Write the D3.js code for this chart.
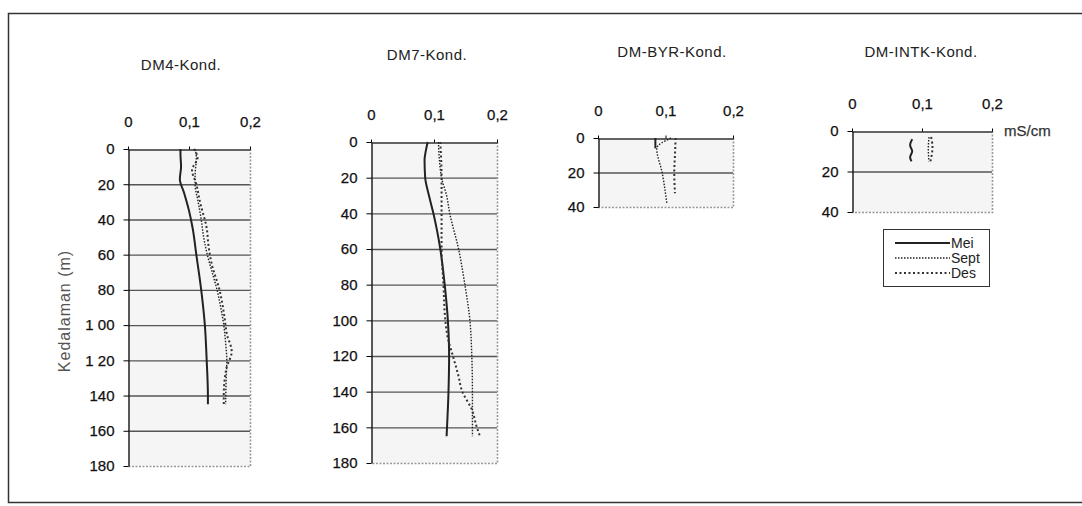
<!DOCTYPE html>
<html>
<head>
<meta charset="utf-8">
<script src="https://d3js.org/d3.v7.min.js"></script>
<style>
  html, body { margin: 0; padding: 0; background: #fff; }
  svg { display: block; font-family: "Liberation Sans", Arial, sans-serif; }
</style>
</head>
<body>
<div id="chart"></div>
<script>
// nilai konduktivitas (mS/cm) terhadap kedalaman (m)
const seriesNames = ["Mei", "Sept", "Des"];
const xTickValues = [0, 0.1, 0.2];
const xTickLabels = ["0", "0,1", "0,2"];

const dm4Ticks = [0, 20, 40, 60, 80, 100, 120, 140, 160, 180];
const dm4TickLabels = ["0", "20", "40", "60", "80", "1 00", "1 20", "140", "160", "180"];
const dm4MeiDepth = [0, 3, 10, 17, 25, 35, 45, 60, 80, 100, 120, 140, 145];
const dm4Mei = [0.086, 0.086, 0.087, 0.085, 0.092, 0.1, 0.106, 0.112, 0.12, 0.126, 0.129, 0.131, 0.131];
const dm4SeptDepth = [0, 5, 15, 20, 30, 40, 50, 60, 70, 80, 90, 100, 110, 120, 130, 145];
const dm4Sept = [0.11, 0.112, 0.11, 0.11, 0.115, 0.12, 0.124, 0.13, 0.138, 0.146, 0.152, 0.157, 0.16, 0.162, 0.161, 0.16];
const dm4DesDepth = [0, 5, 12, 20, 30, 45, 55, 65, 80, 95, 105, 115, 125, 140, 145];
const dm4Des = [0.108, 0.114, 0.105, 0.112, 0.118, 0.129, 0.132, 0.137, 0.15, 0.158, 0.162, 0.17, 0.161, 0.157, 0.157];

const dm7Ticks = [0, 20, 40, 60, 80, 100, 120, 140, 160, 180];
const dm7TickLabels = ["0", "20", "40", "60", "80", "100", "120", "140", "160", "180"];
const dm7MeiDepth = [0, 5, 10, 20, 30, 40, 50, 60, 80, 100, 120, 140, 165];
const dm7Mei = [0.09, 0.087, 0.085, 0.086, 0.092, 0.099, 0.105, 0.11, 0.117, 0.122, 0.124, 0.123, 0.12];
const dm7SeptDepth = [0, 20, 30, 40, 60, 80, 100, 120, 140, 165];
const dm7Sept = [0.107, 0.112, 0.12, 0.125, 0.139, 0.149, 0.157, 0.16, 0.161, 0.161];
const dm7DesDepth = [0, 20, 40, 60, 80, 100, 110, 120, 130, 140, 150, 160, 165];
const dm7Des = [0.11, 0.112, 0.112, 0.112, 0.115, 0.118, 0.122, 0.13, 0.138, 0.145, 0.16, 0.168, 0.173];

const byrTicks = [0, 20, 40];
const byrTickLabels = ["0", "20", "40"];
const byrMeiDepth = [0, 6];
const byrMei = [0.085, 0.085];
const byrSeptDepth = [0, 6, 20, 38];
const byrSept = [0.108, 0.087, 0.095, 0.102];
const byrDesDepth = [0, 10, 20, 32];
const byrDes = [0.115, 0.114, 0.113, 0.114];

const intkTicks = [0, 20, 40];
const intkTickLabels = ["0", "20", "40"];
const intkMeiDepth = [4, 7, 10, 13, 15];
const intkMei = [0.086, 0.083, 0.086, 0.083, 0.085];
const intkSeptDepth = [3, 9, 15];
const intkSept = [0.11, 0.109, 0.11];
const intkDesDepth = [3, 8, 15];
const intkDes = [0.113, 0.115, 0.112];

const zip = (d, v) => d.map((dep, i) => ({depth: dep, value: v[i]}));

const panels = [
  {title: "DM4-Kond.", ticks: dm4Ticks, tickLabels: dm4TickLabels,
   box: {l: 128, r: 250, t: 149, b: 466}, titleX: 181, titleY: 70,
   series: [zip(dm4MeiDepth, dm4Mei), zip(dm4SeptDepth, dm4Sept), zip(dm4DesDepth, dm4Des)]},
  {title: "DM7-Kond.", ticks: dm7Ticks, tickLabels: dm7TickLabels,
   box: {l: 371, r: 497, t: 142, b: 463}, titleX: 427, titleY: 60,
   series: [zip(dm7MeiDepth, dm7Mei), zip(dm7SeptDepth, dm7Sept), zip(dm7DesDepth, dm7Des)]},
  {title: "DM-BYR-Kond.", ticks: byrTicks, tickLabels: byrTickLabels,
   box: {l: 598, r: 733, t: 138, b: 207}, titleX: 672, titleY: 57,
   series: [zip(byrMeiDepth, byrMei), zip(byrSeptDepth, byrSept), zip(byrDesDepth, byrDes)]},
  {title: "DM-INTK-Kond.", ticks: intkTicks, tickLabels: intkTickLabels,
   box: {l: 852, r: 992, t: 131, b: 212}, titleX: 921, titleY: 57,
   series: [zip(intkMeiDepth, intkMei), zip(intkSeptDepth, intkSept), zip(intkDesDepth, intkDes)]}
];

// gaya garis tiap bulan
const lineStyle = [
  {color: "#222", width: 2, dash: null},
  {color: "#222", width: 1.4, dash: "1.5,1.5"},
  {color: "#333", width: 2, dash: "2,2.5"}
];

const W = 1082, H = 506;
const svg = d3.select("#chart").append("svg")
  .attr("width", W).attr("height", H);

// bingkai luar
svg.append("rect")
  .attr("x", 8.5).attr("y", 13.5)
  .attr("width", 1080).attr("height", 489)
  .attr("fill", "none").attr("stroke", "#333").attr("stroke-width", 1.5);

panels.forEach(p => {
  const b = p.box;
  const x = d3.scaleLinear().domain([0, 0.2]).range([b.l, b.r]);
  const y = d3.scaleLinear().domain([0, d3.max(p.ticks)]).range([b.t, b.b]);
  const g = svg.append("g");

  // latar area plot
  g.append("rect")
    .attr("x", b.l).attr("y", b.t)
    .attr("width", b.r - b.l).attr("height", b.b - b.t)
    .attr("fill", "#f5f5f5");

  // garis grid horizontal
  g.selectAll(".grid")
    .data(p.ticks.slice(1, -1))
    .enter().append("line")
    .attr("x1", b.l).attr("x2", b.r)
    .attr("y1", d => y(d) + 0.5).attr("y2", d => y(d) + 0.5)
    .attr("stroke", "#555").attr("stroke-width", 1.4);

  // batas kanan & bawah bertitik
  g.append("path")
    .attr("d", `M${b.r + 0.5},${b.t}V${b.b + 0.5}H${b.l}`)
    .attr("fill", "none").attr("stroke", "#999")
    .attr("stroke-width", 1.6).attr("stroke-dasharray", "2,1.5");

  // sumbu x (atas)
  const xAxis = g.append("g")
    .attr("transform", `translate(0,${b.t + 0.5})`)
    .call(d3.axisTop(x).tickValues(xTickValues)
      .tickFormat((d, i) => xTickLabels[i])
      .tickSize(3).tickSizeOuter(0).tickPadding(20));
  xAxis.select(".domain").attr("stroke", "#333").attr("stroke-width", 1.3);
  xAxis.selectAll("text")
    .attr("font-size", "15px").attr("fill", "#111")
    .attr("stroke", "#111").attr("stroke-width", 0.25)
    .attr("font-family", "Liberation Sans, Arial, sans-serif");

  // sumbu y (kedalaman)
  const yAxis = g.append("g")
    .attr("transform", `translate(${b.l + 0.5},0)`)
    .call(d3.axisLeft(y).tickValues(p.ticks)
      .tickFormat((d, i) => p.tickLabels[i])
      .tickSize(5).tickSizeOuter(0).tickPadding(9));
  yAxis.select(".domain").attr("stroke", "#222").attr("stroke-width", 1.5);
  yAxis.selectAll("text")
    .attr("font-size", "15px").attr("fill", "#111")
    .attr("stroke", "#111").attr("stroke-width", 0.25)
    .attr("font-family", "Liberation Sans, Arial, sans-serif");

  // judul panel
  g.append("text")
    .attr("x", p.titleX).attr("y", p.titleY)
    .attr("text-anchor", "middle")
    .attr("font-size", "15px").attr("letter-spacing", "0.5px")
    .attr("fill", "#222")
    .text(p.title);

  // profil konduktivitas
  const line = d3.line()
    .x(d => x(d.value))
    .y(d => y(d.depth))
    .curve(d3.curveMonotoneY);

  p.series.forEach((s, i) => {
    g.append("path")
      .datum(s)
      .attr("fill", "none")
      .attr("stroke", lineStyle[i].color)
      .attr("stroke-width", lineStyle[i].width)
      .attr("stroke-dasharray", lineStyle[i].dash)
      .attr("d", line);
  });
});

// judul sumbu y
svg.append("text")
  .attr("transform", "translate(70,311) rotate(-90)")
  .attr("text-anchor", "middle")
  .attr("font-size", "16px").attr("letter-spacing", "1px")
  .attr("fill", "#555")
  .text("Kedalaman (m)");

// satuan
svg.append("text")
  .attr("x", 1004).attr("y", 136)
  .attr("font-size", "15px").attr("fill", "#333")
  .attr("stroke", "#333").attr("stroke-width", 0.25)
  .text("mS/cm");

// legenda
const leg = svg.append("g");
leg.append("rect")
  .attr("x", 883.5).attr("y", 229.5)
  .attr("width", 106).attr("height", 57)
  .attr("fill", "#fff").attr("stroke", "#333");
seriesNames.forEach((name, i) => {
  const ly = 243 + i * 15;
  leg.append("line")
    .attr("x1", 895).attr("x2", 950)
    .attr("y1", ly).attr("y2", ly)
    .attr("stroke", lineStyle[i].color)
    .attr("stroke-width", lineStyle[i].width)
    .attr("stroke-dasharray", lineStyle[i].dash);
  leg.append("text")
    .attr("x", 951).attr("y", ly + 5)
    .attr("font-size", "14px").attr("fill", "#222")
    .text(name);
});
</script>
</body>
</html>
